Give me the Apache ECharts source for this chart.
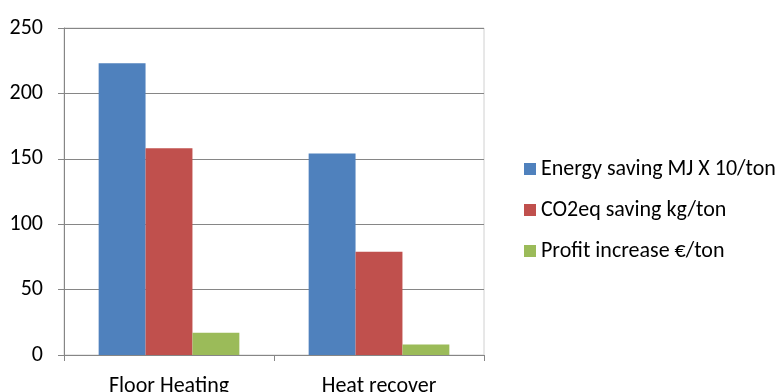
<!DOCTYPE html>
<html>
<head>
<meta charset="utf-8">
<script src="https://cdn.jsdelivr.net/npm/echarts@6/dist/echarts.min.js"></script>
<style>
  html, body { margin: 0; padding: 0; background: #fff; }
  #chart { width: 778px; height: 392px; }
</style>
</head>
<body>
<div id="chart"></div>
<script>
// categories and values
var categories = ['Floor Heating', 'Heat recover'];
var energySaving = [223, 154];
var co2Saving = [158, 79];
var profitIncrease = [17, 8];
var seriesNames = ['Energy saving MJ X 10/ton', 'CO2eq saving kg/ton', 'Profit increase €/ton'];

var chart = echarts.init(document.getElementById('chart'));

var font = 'Carlito, "Open Sans", "Liberation Sans", sans-serif';

var option = {
  backgroundColor: '#fff',
  animation: false,
  color: ['#4F81BD', '#C0504D', '#9BBB59'],
  grid: {
    left: 64, right: 294, top: 28, bottom: 37,
    outerBoundsMode: 'none',
    show: true, borderColor: '#d0d0d0', borderWidth: 1
  },
  legend: {
    orient: 'vertical',
    left: 519,
    top: 152,
    itemWidth: 12,
    itemHeight: 12,
    itemGap: 17,
    icon: 'rect',
    textStyle: { fontSize: 22, lineHeight: 24, color: '#000', fontFamily: font, padding: 0 },
    data: seriesNames
  },
  xAxis: {
    type: 'category',
    data: categories,
    axisLine: { lineStyle: { color: '#868686' } },
    axisTick: { show: true, length: 6, lineStyle: { color: '#868686' } },
    axisLabel: { fontSize: 22, color: '#000', fontFamily: font, margin: 20 }
  },
  yAxis: {
    type: 'value',
    min: 0,
    max: 250,
    interval: 50,
    axisLine: { show: true, lineStyle: { color: '#868686' } },
    axisTick: { show: true, length: 6, lineStyle: { color: '#868686' } },
    axisLabel: { fontSize: 22, color: '#000', fontFamily: font, margin: 21 },
    splitLine: { lineStyle: { color: '#868686' } }
  },
  series: [
    { name: seriesNames[0], type: 'bar', data: energySaving, barGap: '0%', barCategoryGap: '33%' },
    { name: seriesNames[1], type: 'bar', data: co2Saving, barGap: '0%', barCategoryGap: '33%' },
    { name: seriesNames[2], type: 'bar', data: profitIncrease, barGap: '0%', barCategoryGap: '33%' }
  ]
};

chart.setOption(option);
</script>
</body>
</html>
